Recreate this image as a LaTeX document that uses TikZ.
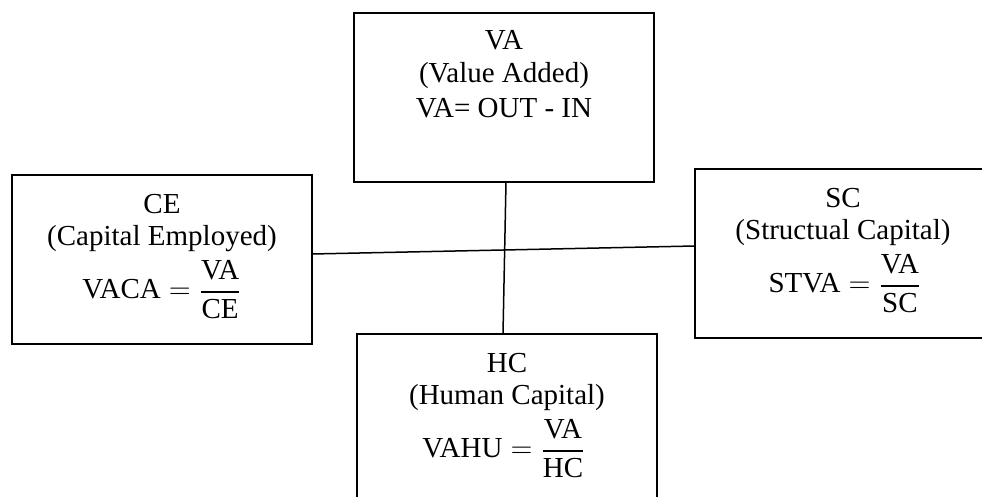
\documentclass[tikz,border=0pt]{standalone}
\usepackage{fontspec}
\setmainfont{Liberation Serif}
\begin{document}
\begin{tikzpicture}[x=0.5pt,y=-0.5pt,
  box/.style={draw, line width=1pt, minimum width=150pt, minimum height=84.5pt, inner sep=0pt, outer sep=0pt},
  txt/.style={anchor=base, inner sep=0pt, font=\fontsize{14.5}{17}\selectfont},
  link/.style={line width=0.75pt}]
\useasboundingbox (0,0) rectangle (982,497);
\clip (0,0) rectangle (982,497);
% boxes
\node[box] (va) at (504,97.5) {};
\node[box] (ce) at (162,259.5) {};
\node[box] (sc) at (845,253.5) {};
\node[box] (hc) at (507,418.5) {};
% VA texts
\node[txt] (vaT) at (504,50) {VA};
\node[txt] (vaS) at (504,83) {(Value Added)};
\node[txt] (vaF) at (504,118) {VA= OUT - IN};
% CE texts
\node[txt] (ceT) at (162,214) {CE};
\node[txt] (ceS) at (162,246) {(Capital Employed)};
\node[txt] (ceF) at (162,299) {$\displaystyle \mbox{VACA} = {\mbox{VA} \above 0.9pt \mbox{CE}}$};
% SC texts
\node[txt] (scT) at (843,208) {SC};
\node[txt] (scS) at (843,240) {(Structual Capital)};
\node[txt] (scF) at (845,293) {$\displaystyle \mbox{STVA} = {\mbox{VA} \above 0.9pt \mbox{SC}}$};
% HC texts
\node[txt] (hcT) at (507,373) {HC};
\node[txt] (hcS) at (507,405) {(Human Capital)};
\node[txt] (hcF) at (504,458) {$\displaystyle \mbox{VAHU} = {\mbox{VA} \above 0.9pt \mbox{HC}}$};
% connectors
\draw[link] ([xshift=1pt]va.south) -- ([xshift=-2pt]hc.north);
\draw[link] ([yshift=2.75pt]ce.east) -- ([yshift=3.75pt]sc.west);
\end{tikzpicture}
\end{document}
